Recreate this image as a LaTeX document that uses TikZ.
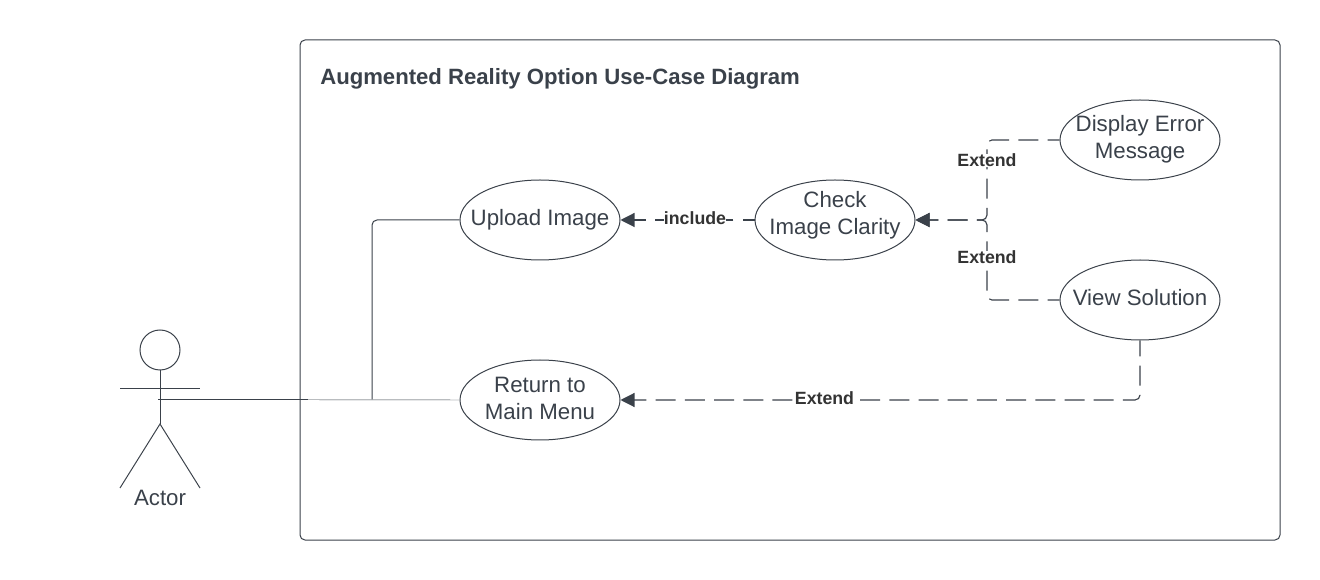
\documentclass[tikz,border=0pt]{standalone}
\usepackage{fontspec}
\setmainfont{Liberation Sans}
\usetikzlibrary{arrows.meta,shapes.geometric}
\definecolor{ink}{HTML}{3A414A}
\definecolor{lab}{HTML}{333333}
\tikzset{
  x=0.75pt,y=-0.75pt,
  usecase/.style={draw=ink,line width=0.75pt,ellipse,minimum width=120pt,minimum height=60pt,inner sep=0pt},
  casetext/.style={align=center,inner sep=0pt,text=ink,font=\fontsize{16.7pt}{20.25pt}\selectfont},
  frame/.style={draw=ink,line width=0.75pt,rounded corners=3.75pt},
  title/.style={anchor=west,inner sep=0pt,text=ink,font=\fontsize{16.6pt}{20pt}\selectfont\bfseries},
  limb/.style={draw=ink,line width=0.75pt},
  actorlabel/.style={inner sep=0pt,text=ink,font=\fontsize{16.7pt}{20pt}\selectfont},
  assoc/.style={draw=ink,line width=0.75pt,rounded corners=3.75pt},
  faint/.style={draw=ink,line width=0.35pt},
  dep/.style={draw=ink,line width=0.85pt,rounded corners=3.75pt},
  dashA/.style={dash pattern=on 15pt off 6.9pt,dash phase=6pt},
  dashB/.style={dash pattern=on 15pt off 6.9pt,dash phase=3.1pt},
  tipped/.style={-{Triangle[length=10.5pt,width=10.5pt,fill=ink]}},
  deplabel/.style={fill=white,inner sep=0pt,text=lab,font=\fontsize{13.3pt}{15pt}\selectfont\bfseries},
}
\begin{document}
\begin{tikzpicture}
\useasboundingbox (0,0) rectangle (1320,580);
\node[minimum width=735pt,minimum height=375pt,frame,inner sep=0pt] (sys) at (790,290) {};
\node[title] (ttl) at (320,78.5) {Augmented Reality Option Use-Case Diagram};
% use cases
\node[usecase,label={[casetext,yshift=0pt]center:Upload Image}] (upload) at (540,220) {};
\node[usecase,label={[casetext,yshift=3.7pt]center:Check\\Image Clarity}] (check) at (835,220) {};
\node[usecase,label={[casetext,yshift=0.75pt]center:Display Error\\Message}] (display) at (1140,140) {};
\node[usecase,label={[casetext,yshift=1.5pt]center:View Solution}] (view) at (1140,300) {};
\node[usecase,label={[casetext,yshift=1.5pt]center:Return to\\Main Menu}] (return) at (540,400) {};
% actor
\node[circle,draw=ink,line width=0.75pt,minimum size=30pt,inner sep=0pt] (head) at (160,350) {};
\coordinate (hip) at (160,424);
\coordinate (armL) at (120,389);
\coordinate (armR) at (200,389);
\coordinate (footL) at (120,488);
\coordinate (footR) at (200,488);
\coordinate (hand) at (158,399.5);
\coordinate (seamA) at (233,399.5);
\coordinate (seamB) at (308,399.5);
\coordinate (fork) at (372,399.5);
\coordinate (jct) at (987,220);
\draw[limb] (head.south) -- (hip);
\draw[limb] (armL) -- (armR);
\draw[limb] (footL) -- (hip) -- (footR);
\node[actorlabel] (actor) at (160,498) {Actor};
% associations
\draw[faint] (hand) -- (return.west);
\draw[faint] (hand) -- (seamB);
\draw[faint] (hand) -- (seamA);
\draw[assoc] (fork) |- (upload.west);
% dependencies
\draw[dep,dashA,tipped] (check.west) -- (upload.east);
\draw[dep,dashA,tipped] (display.west) -| (jct) -- (check.east);
\draw[dep,dashA,tipped] (view.west) -| (jct) -- (check.east);
\draw[dep,dashB,tipped] (view.south) |- (return.east);
\node[deplabel] (l1) at (695,218) {include};
\node[deplabel] (l2) at (987,160.5) {Extend};
\node[deplabel] (l3) at (987,257.5) {Extend};
\node[deplabel] (l4) at (824.5,398) {Extend};
\end{tikzpicture}
\end{document}
